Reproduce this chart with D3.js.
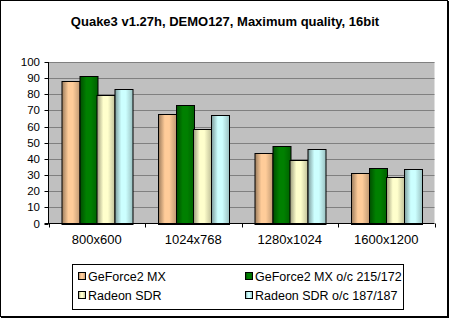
<html>
<head>
<script src="https://d3js.org/d3.v7.min.js"></script>
<style>
body { margin: 0; background: #fff; }
text { font-family: Arial, "Liberation Sans", Helvetica, sans-serif; fill: #000; }
.title { font-size: 13px; font-weight: bold; text-anchor: middle; }
.ytick { font-size: 11.5px; text-anchor: end; }
.xlab { font-size: 13px; text-anchor: middle; }
.leg { font-size: 12.5px; }
</style>
</head>
<body>
<svg id="chart"></svg>
<script>
// chart data
var categories = ['800x600', '1024x768', '1280x1024', '1600x1200'];
var seriesNames = ['GeForce2 MX', 'GeForce2 MX o/c 215/172', 'Radeon SDR', 'Radeon SDR o/c 187/187'];
var geforce = [88.4, 67.6, 43.4, 31.0];
var geforceOc = [91.1, 73.2, 47.7, 34.1];
var radeon = [79.3, 58.7, 39.1, 28.7];
var radeonOc = [83.4, 67.0, 46.1, 33.7];
var yTicks = [0, 10, 20, 30, 40, 50, 60, 70, 80, 90, 100];
var title = 'Quake3 v1.27h, DEMO127, Maximum quality, 16bit';

var values = [geforce, geforceOc, radeon, radeonOc];
var colors = ['#FFCC99', '#008000', '#FFFFCC', '#CCFFFF'];

var W = 449, H = 318;
var plot = { left: 48.5, right: 434.5, top: 62, bottom: 223.5 };

var svg = d3.select('#chart').attr('width', W).attr('height', H);

// bar shading gradients
var defs = svg.append('defs');
colors.forEach(function(c, i) {
	var g = defs.append('linearGradient').attr('id', 'grad' + i)
		.attr('x1', '0%').attr('x2', '100%').attr('y1', '0%').attr('y2', '0%');
	var base = d3.rgb(c);
	g.append('stop').attr('offset', '0%').attr('stop-color', base.darker(1.4));
	g.append('stop').attr('offset', '35%').attr('stop-color', base);
	g.append('stop').attr('offset', '60%').attr('stop-color', base);
	g.append('stop').attr('offset', '100%').attr('stop-color', base.darker(0.8));
});

// frame
svg.append('rect').attr('x', 0.5).attr('y', 0.5).attr('width', W - 2).attr('height', H - 2)
	.attr('fill', '#fff').attr('stroke', '#000');
svg.append('line').attr('x1', W - 0.5).attr('y1', 1).attr('x2', W - 0.5).attr('y2', H)
	.attr('stroke', '#000');
svg.append('line').attr('x1', 1).attr('y1', H - 0.5).attr('x2', W).attr('y2', H - 0.5)
	.attr('stroke', '#000');

svg.append('text').attr('class', 'title').attr('x', 225).attr('y', 26).text(title);

var x = d3.scaleBand().domain(categories).range([plot.left, plot.right]).padding(0);
var y = d3.scaleLinear().domain([0, 100]).range([plot.bottom, plot.top]);
var pad = x.bandwidth() * 0.135;
var xs = d3.scaleBand().domain(d3.range(seriesNames.length)).range([pad, x.bandwidth() - pad]);

// plot background and grid
svg.append('rect').attr('x', plot.left).attr('y', plot.top)
	.attr('width', plot.right - plot.left).attr('height', plot.bottom - plot.top)
	.attr('fill', '#C0C0C0');
svg.selectAll('.grid').data(yTicks.slice(1)).enter().append('line')
	.attr('x1', plot.left).attr('x2', plot.right)
	.attr('y1', function(d) { return Math.round(y(d)) + 0.5; })
	.attr('y2', function(d) { return Math.round(y(d)) + 0.5; })
	.attr('stroke', '#808080');

// bars
var group = svg.selectAll('.cat').data(categories).enter().append('g')
	.attr('transform', function(d) { return 'translate(' + x(d) + ',0)'; });
group.selectAll('rect').data(function(d, ci) {
		return values.map(function(v, si) { return { s: si, v: v[ci] }; });
	}).enter().append('rect')
	.attr('x', function(d) { return Math.round(xs(d.s)) + 0.5; })
	.attr('y', function(d) { return Math.round(y(d.v)) + 0.5; })
	.attr('width', Math.round(xs.bandwidth()))
	.attr('height', function(d) { return Math.round(y(0)) - Math.round(y(d.v)); })
	.attr('fill', function(d) { return 'url(#grad' + d.s + ')'; })
	.attr('stroke', '#000');

// axes
svg.append('line').attr('x1', plot.left).attr('x2', plot.left)
	.attr('y1', plot.top).attr('y2', plot.bottom).attr('stroke', '#000');
svg.append('line').attr('x1', plot.left - 4).attr('x2', plot.right)
	.attr('y1', plot.bottom).attr('y2', plot.bottom).attr('stroke', '#000');
svg.selectAll('.yt').data(yTicks).enter().append('line')
	.attr('x1', plot.left - 4).attr('x2', plot.left)
	.attr('y1', function(d) { return Math.round(y(d)) + 0.5; })
	.attr('y2', function(d) { return Math.round(y(d)) + 0.5; })
	.attr('stroke', '#000');
svg.selectAll('.ytick').data(yTicks).enter().append('text')
	.attr('class', 'ytick').attr('x', 40)
	.attr('y', function(d) { return y(d) + 4; })
	.text(function(d) { return d; });
var bounds = categories.map(function(c) { return x(c); }).concat([plot.right]);
svg.selectAll('.xt').data(bounds).enter().append('line')
	.attr('x1', function(d) { return Math.round(d) + 0.5; })
	.attr('x2', function(d) { return Math.round(d) + 0.5; })
	.attr('y1', plot.bottom).attr('y2', plot.bottom + 4).attr('stroke', '#000');
svg.selectAll('.xlab').data(categories).enter().append('text')
	.attr('class', 'xlab')
	.attr('x', function(d) { return x(d) + x.bandwidth() / 2; })
	.attr('y', 244)
	.text(function(d) { return d; });

// legend
svg.append('rect').attr('x', 72.5).attr('y', 264.5).attr('width', 331).attr('height', 45)
	.attr('fill', '#fff').attr('stroke', '#000');
var legPos = [[78, 272], [245, 272], [78, 291], [245, 291]];
var leg = svg.selectAll('.legitem').data(seriesNames).enter().append('g')
	.attr('transform', function(d, i) { return 'translate(' + legPos[i][0] + ',' + legPos[i][1] + ')'; });
leg.append('rect').attr('x', 0.5).attr('y', 0.5).attr('width', 7).attr('height', 7)
	.attr('fill', function(d, i) { return 'url(#grad' + i + ')'; })
	.attr('stroke', '#000');
leg.append('text').attr('class', 'leg').attr('x', 10).attr('y', 9).text(function(d) { return d; });
</script>
</body>
</html>
